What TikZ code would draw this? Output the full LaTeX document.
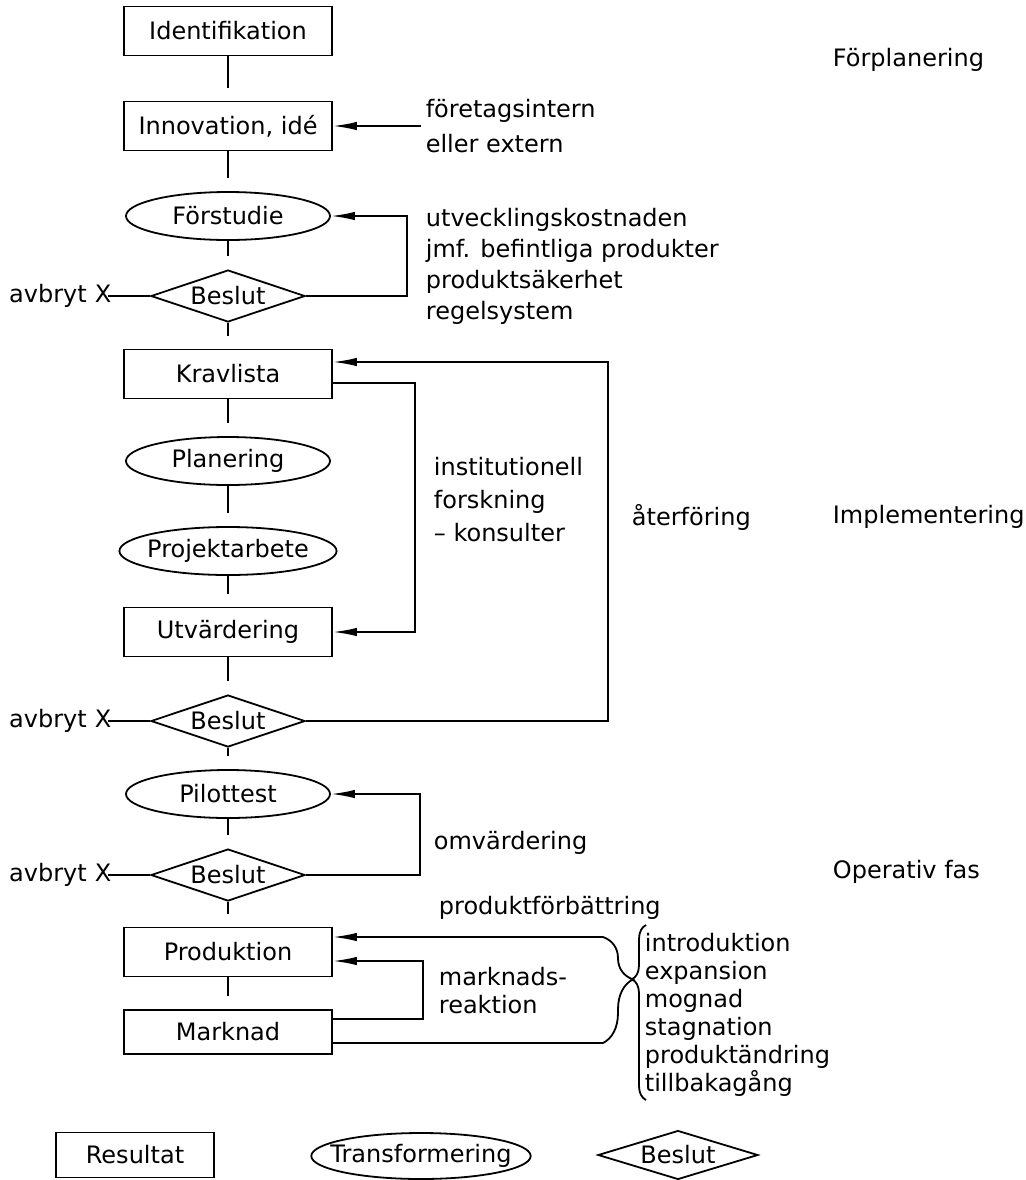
\documentclass[tikz,border=0pt]{standalone}
\usepackage{fontspec}
\setmainfont{DejaVu Sans}
\usepackage{tikz}
\usetikzlibrary{arrows.meta,shapes,calc,positioning,decorations.pathreplacing}
\tikzstyle{result}=[rectangle, draw, minimum width=104pt,
                    minimum height=24.5pt, inner sep=2pt]
\tikzstyle{transf}=[ellipse, draw, minimum width=102pt,
                    minimum height=24pt, inner xsep=-2pt, inner ysep=0pt]
\tikzstyle{decide}=[diamond, draw, aspect=3, minimum width=77pt,
                    minimum height=26pt, inner sep=1pt]
\tikzstyle{note}  =[inner sep=2pt, align=left]
\tikzstyle{link}  =[shorten >=6.5pt]
\tikzstyle{flow}  =[-{Latex[length=12pt, width=4.2pt]}]

\begin{document}
\begin{tikzpicture}[x=0.5pt, y=-0.5pt, on grid, line width=0.9pt,
            every node/.style={font=\fontsize{12}{14}\selectfont}]
                \useasboundingbox (0,0) rectangle (1025,1180);

                % huvudflödet
                \node[result] (ident) at (228,31) {Identifikation};
                \node[result] (innov) [below=47.5pt of ident] {Innovation, idé};
                \node[transf] (forstud) [below=45pt of innov] {Förstudie};
                \node[decide] (beslA) [below=40pt of forstud] {Beslut};
                \node[result] (krav) [below=39pt of beslA] {Kravlista};
                \node[transf] (plan) [below=43.5pt of krav] {Planering};
                \node[transf] (projekt) [below=45pt of plan] {Projektarbete};
                \node[result] (utvard) [below=40.5pt of projekt] {Utvärdering};
                \node[decide] (beslB) [below=44.5pt of utvard] {Beslut};
                \node[transf] (pilot) [below=36.5pt of beslB] {Pilottest};
                \node[decide] (beslC) [below=40.5pt of pilot] {Beslut};
                \node[result] (prod) [below=38.5pt of beslC] {Produktion};
                \node[result, minimum height=22pt] (markn) [below=40pt of prod] {Marknad};

                \draw[link] (ident) to (innov);
                \draw[link] (innov) to (forstud);
                \draw[link] (forstud) to (beslA);
                \draw[link] (beslA) to (krav);
                \draw[link] (krav) to (plan);
                \draw[link] (plan) to (projekt);
                \draw[link] (projekt) to (utvard);
                \draw[link] (utvard) to (beslB);
                \draw[link] (beslB) to (pilot);
                \draw[link] (pilot) to (beslC);
                \draw[link] (beslC) to (prod);
                \draw[link] (prod) to (markn);

                % avbrott
                \node[note, anchor=east] (stopA) at ([xshift=-17pt]beslA.west) {avbryt\hspace{4pt}X};
                \node[note, anchor=east] (stopB) at ([xshift=-17pt]beslB.west) {avbryt\hspace{4pt}X};
                \node[note, anchor=east] (stopC) at ([xshift=-17pt]beslC.west) {avbryt\hspace{4pt}X};
                \draw (beslA.west) to ([xshift=-4pt]stopA.east);
                \draw (beslB.west) to ([xshift=-4pt]stopB.east);
                \draw (beslC.west) to ([xshift=-4pt]stopC.east);

                % återkopplingar
                \coordinate (railA) at (407,0);
                \coordinate (railB) at (415,0);
                \coordinate (railC) at (608,0);
                \coordinate (railD) at (420,0);
                \coordinate (railE) at (423,0);
                \coordinate (brX) at (603,0);
                \coordinate (kravIn) at ([yshift=6pt]krav.east);
                \coordinate (kravOut) at ([yshift=-4.5pt]krav.east);
                \coordinate (prodHi) at ([yshift=7.5pt]prod.east);
                \coordinate (prodLo) at ([yshift=-4.5pt]prod.east);
                \coordinate (marknHi) at ([yshift=6.5pt]markn.east);
                \coordinate (marknLo) at ([yshift=-5.5pt]markn.east);

                \node[note, anchor=west, font=\fontsize{12}{17.5}\selectfont]
                    (extsrc) at ([xshift=44pt]innov.east) {företagsintern\\eller extern};
                \draw[flow] (extsrc.west) to (innov.east);

                \draw[flow] (beslA.east) -- (beslA.east -| railA) |- (forstud.east);
                \draw[flow] (kravOut) -- (kravOut -| railB) |- (utvard.east);
                \draw[flow] (beslB.east) -- (beslB.east -| railC) |- (kravIn);
                \draw[flow] (beslC.east) -- (beslC.east -| railD) |- (pilot.east);
                \draw[flow] (marknHi) -- (marknHi -| railE) |- (prodLo);
                \draw[flow] (prodHi -| brX) -- (prodHi);
                \draw (marknLo) -- (marknLo -| brX);
                \draw[decorate, decoration={brace, amplitude=15pt, aspect=0.4}]
                    (prodHi -| brX) -- (marknLo -| brX);

                % livscykel
                \coordinate (listTop) at (646,925);
                \coordinate (listBot) at (646,1100);
                \draw[decorate, decoration={brace, mirror, amplitude=7pt, aspect=0.31}]
                    (listTop) -- (listBot);
                \node[note, anchor=west] (phases) at (640,1015)
                    {introduktion\\expansion\\mognad\\stagnation\\produktändring\\tillbakagång};

                % texter
                \node[note, anchor=west, font=\fontsize{12}{15.5}\selectfont] (costs) at (421,266)
                    {utvecklingskostnaden\\jmf. befintliga produkter\\produktsäkerhet\\regelsystem};
                \node[note, anchor=west, font=\fontsize{12}{16.5}\selectfont] (inst) at (429,500)
                    {institutionell\\forskning\\– konsulter};
                \node[note, anchor=west] (aterf) at (627,517) {återföring};
                \node[note, anchor=west] (omv) at (429,843) {omvärdering};
                \node[note, anchor=west] (improve) at (434,908) {produktförbättring};
                \node[note, anchor=west] (reac) at (434,991) {marknads-\\reaktion};

                % faser
                \node[note, anchor=west] (forpl) at (828,60) {Förplanering};
                \node[note, anchor=west] (impl) at (828,517) {Implementering};
                \node[note, anchor=west] (opfas) at (828,872) {Operativ fas};

                % teckenförklaring
                \node[result, minimum width=79pt, minimum height=22.5pt] (legres) at (135,1155) {Resultat};
                \node[transf, inner xsep=-6.5pt, minimum height=23pt] (legtra) at (421,1156) {Transformering};
                \node[decide, minimum width=80pt, minimum height=23.5pt] (legdec) at (678,1155) {Beslut};
        \end{tikzpicture}
\end{document}
